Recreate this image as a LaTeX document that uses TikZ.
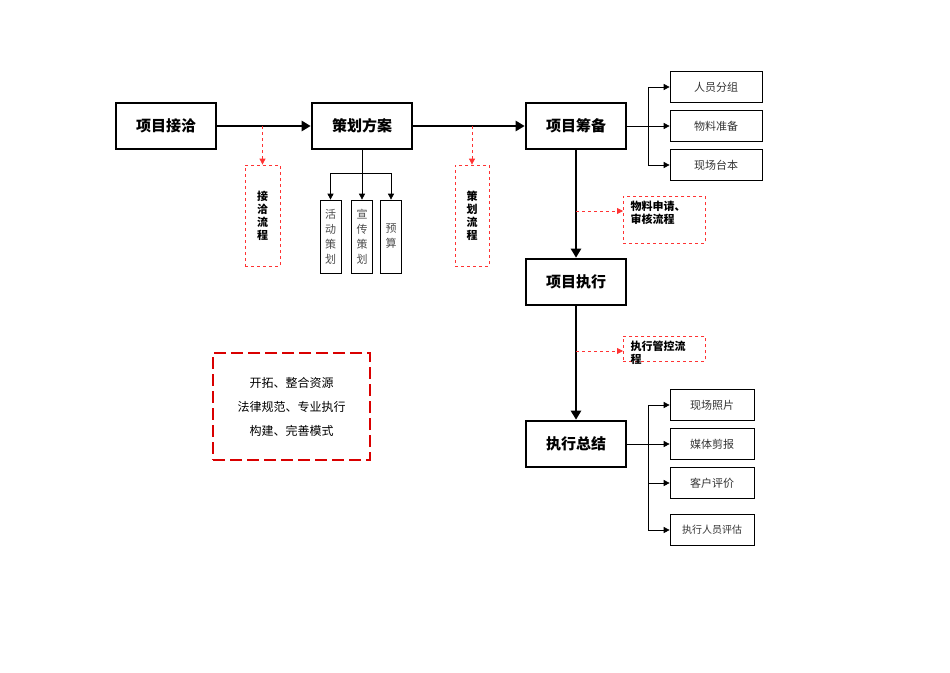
\documentclass[tikz,border=0pt]{standalone}
\usepackage{fontspec}
\setmainfont{Noto Sans CJK SC}
\usetikzlibrary{arrows.meta}
\begin{document}
\begin{tikzpicture}[x=1pt,y=-1pt,
 main/.style={draw,line width=2.6pt,minimum width=100pt,minimum height=46pt,font=\fontsize{15}{18}\selectfont\bfseries},
 sub/.style={draw,line width=0.7pt,minimum width=92pt,minimum height=31pt,font=\fontsize{11}{13}\selectfont,text=black!80},
 vsub/.style={draw,line width=0.7pt,minimum width=21pt,minimum height=73pt,font=\fontsize{11}{15}\selectfont,align=center,text=black!70},
 red/.style={draw=red!80,dashed,line width=0.8pt,font=\fontsize{11}{13}\selectfont\bfseries},
 thick arrow/.style={line width=2.6pt,-{Triangle[length=9pt,width=10pt]}},
 thin arrow/.style={line width=0.7pt,-{Triangle[length=6pt,width=6pt]}},
 red arrow/.style={draw=red!80,dashed,line width=0.8pt,-{Triangle[length=6pt,width=6pt]}}]
\useasboundingbox (0,0) rectangle (950,672);
\node[main] (a) at (166,126) {项目接洽};
\node[main] (b) at (362,126) {策划方案};
\node[main] (c) at (576,126) {项目筹备};
\node[main] (d) at (576,282) {项目执行};
\node[main] (e) at (576,444) {执行总结};
\draw[thick arrow] (a) -- (b);
\draw[thick arrow] (b) -- (c);
\draw[thick arrow] (c) -- (d);
\draw[thick arrow] (d) -- (e);
% dashed side processes
\node[red,minimum width=35pt,minimum height=101pt,align=center] (p1) at (262.5,215.5) {接\\洽\\流\\程};
\node[red,minimum width=34pt,minimum height=101pt,align=center] (p2) at (472,215.5) {策\\划\\流\\程};
\draw[red arrow] (262.5,126) -- (p1.north);
\draw[red arrow] (472,126) -- (p2.north);
\node[red,minimum width=82pt,minimum height=47pt,anchor=north west,inner sep=0pt] (p3) at (623,196) {};
\node[font=\fontsize{11}{13}\selectfont\bfseries,align=left,anchor=north west] at (627,198) {物料申请、\\审核流程};
\node[red,minimum width=82pt,minimum height=25pt,anchor=north west,inner sep=0pt] (p4) at (623,336) {};
\node[font=\fontsize{11}{13}\selectfont\bfseries,align=left,anchor=north west] at (627,337) {执行管控流\\程};
\draw[red arrow] (576,211) -- (623,211);
\draw[red arrow] (576,351) -- (623,351);
% sub plans
\node[vsub] (s1) at (330.5,236.5) {活\\动\\策\\划};
\node[vsub] (s2) at (362,236.5) {宣\\传\\策\\划};
\node[vsub] (s3) at (391,236.5) {预\\算};
\coordinate (j) at (362,173);
\draw[line width=0.7pt] (b.south) -- (j);
\draw[thin arrow] (j) -| (s1.north);
\draw[thin arrow] (j) -- (s2.north);
\draw[thin arrow] (j) -| (s3.north);
% right boxes top
\node[sub] (r1) at (716,87) {人员分组};
\node[sub] (r2) at (716,126) {物料准备};
\node[sub] (r3) at (716,165) {现场台本};
\draw[thin arrow] (c.east) -- (r2.west);
\draw[thin arrow] (648,126) |- (r1.west);
\draw[thin arrow] (648,126) |- (r3.west);
% right boxes bottom
\node[sub,minimum width=84pt] (t1) at (712,405) {现场照片};
\node[sub,minimum width=84pt] (t2) at (712,444) {媒体剪报};
\node[sub,minimum width=84pt] (t3) at (712,483) {客户评价};
\node[sub,minimum width=84pt,font=\fontsize{10}{12}\selectfont] (t4) at (712,530) {执行人员评估};
\draw[thin arrow] (e.east) -- (t2.west);
\draw[thin arrow] (648,444) |- (t1.west);
\draw[thin arrow] (648,444) |- (t3.west);
\draw[thin arrow] (648,444) |- (t4.west);
% left note
\node[draw=red!85!black,dash pattern=on 12pt off 5pt,line width=2pt,minimum width=157pt,minimum height=107pt,align=center,font=\fontsize{12}{24}\selectfont] (n) at (291.5,406.5) {开拓、整合资源\\法律规范、专业执行\\构建、完善模式};
\end{tikzpicture}
\end{document}
